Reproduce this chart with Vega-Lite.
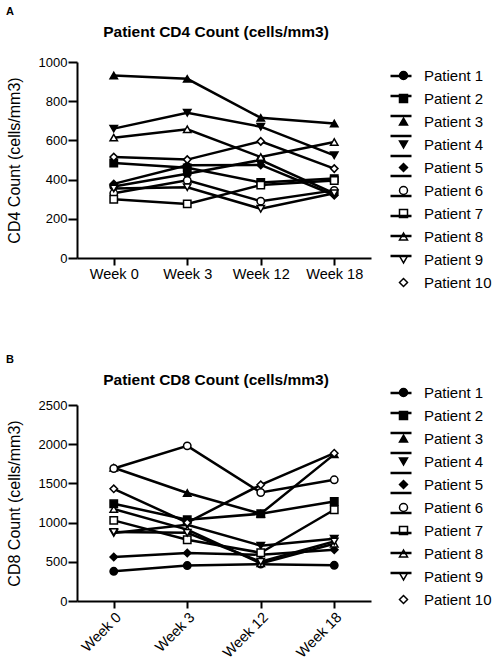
{
  "$schema": "https://vega.github.io/schema/vega-lite/v6.json",
  "background": "white",
  "padding": {"left": 6, "top": 5, "right": 0, "bottom": 0},
  "spacing": 60,
  "resolve": {"scale": {"fill": "independent", "shape": "independent", "stroke": "independent"}},
  "datasets": {
    "cd4": [
      {"patient": "Patient 1", "week": "Week 0", "count": 365},
      {"patient": "Patient 1", "week": "Week 3", "count": 430},
      {"patient": "Patient 1", "week": "Week 12", "count": 500},
      {"patient": "Patient 1", "week": "Week 18", "count": 330},
      {"patient": "Patient 2", "week": "Week 0", "count": 485},
      {"patient": "Patient 2", "week": "Week 3", "count": 460},
      {"patient": "Patient 2", "week": "Week 12", "count": 385},
      {"patient": "Patient 2", "week": "Week 18", "count": 405},
      {"patient": "Patient 3", "week": "Week 0", "count": 931},
      {"patient": "Patient 3", "week": "Week 3", "count": 914},
      {"patient": "Patient 3", "week": "Week 12", "count": 715},
      {"patient": "Patient 3", "week": "Week 18", "count": 686},
      {"patient": "Patient 4", "week": "Week 0", "count": 660},
      {"patient": "Patient 4", "week": "Week 3", "count": 741},
      {"patient": "Patient 4", "week": "Week 12", "count": 670},
      {"patient": "Patient 4", "week": "Week 18", "count": 524},
      {"patient": "Patient 5", "week": "Week 0", "count": 378},
      {"patient": "Patient 5", "week": "Week 3", "count": 473},
      {"patient": "Patient 5", "week": "Week 12", "count": 475},
      {"patient": "Patient 5", "week": "Week 18", "count": 320},
      {"patient": "Patient 6", "week": "Week 0", "count": 330},
      {"patient": "Patient 6", "week": "Week 3", "count": 396},
      {"patient": "Patient 6", "week": "Week 12", "count": 290},
      {"patient": "Patient 6", "week": "Week 18", "count": 345},
      {"patient": "Patient 7", "week": "Week 0", "count": 300},
      {"patient": "Patient 7", "week": "Week 3", "count": 276},
      {"patient": "Patient 7", "week": "Week 12", "count": 372},
      {"patient": "Patient 7", "week": "Week 18", "count": 395},
      {"patient": "Patient 8", "week": "Week 0", "count": 614},
      {"patient": "Patient 8", "week": "Week 3", "count": 657},
      {"patient": "Patient 8", "week": "Week 12", "count": 515},
      {"patient": "Patient 8", "week": "Week 18", "count": 592},
      {"patient": "Patient 9", "week": "Week 0", "count": 355},
      {"patient": "Patient 9", "week": "Week 3", "count": 361},
      {"patient": "Patient 9", "week": "Week 12", "count": 251},
      {"patient": "Patient 9", "week": "Week 18", "count": 330},
      {"patient": "Patient 10", "week": "Week 0", "count": 515},
      {"patient": "Patient 10", "week": "Week 3", "count": 502},
      {"patient": "Patient 10", "week": "Week 12", "count": 595},
      {"patient": "Patient 10", "week": "Week 18", "count": 456}
    ],
    "cd8": [
      {"patient": "Patient 1", "week": "Week 0", "count": 379},
      {"patient": "Patient 1", "week": "Week 3", "count": 452},
      {"patient": "Patient 1", "week": "Week 12", "count": 470},
      {"patient": "Patient 1", "week": "Week 18", "count": 455},
      {"patient": "Patient 2", "week": "Week 0", "count": 1240},
      {"patient": "Patient 2", "week": "Week 3", "count": 1037},
      {"patient": "Patient 2", "week": "Week 12", "count": 1113},
      {"patient": "Patient 2", "week": "Week 18", "count": 1270},
      {"patient": "Patient 3", "week": "Week 0", "count": 1700},
      {"patient": "Patient 3", "week": "Week 3", "count": 1377},
      {"patient": "Patient 3", "week": "Week 12", "count": 1113},
      {"patient": "Patient 3", "week": "Week 18", "count": 1870},
      {"patient": "Patient 4", "week": "Week 0", "count": 867},
      {"patient": "Patient 4", "week": "Week 3", "count": 973},
      {"patient": "Patient 4", "week": "Week 12", "count": 706},
      {"patient": "Patient 4", "week": "Week 18", "count": 795},
      {"patient": "Patient 5", "week": "Week 0", "count": 562},
      {"patient": "Patient 5", "week": "Week 3", "count": 613},
      {"patient": "Patient 5", "week": "Week 12", "count": 590},
      {"patient": "Patient 5", "week": "Week 18", "count": 655},
      {"patient": "Patient 6", "week": "Week 0", "count": 1690},
      {"patient": "Patient 6", "week": "Week 3", "count": 1979},
      {"patient": "Patient 6", "week": "Week 12", "count": 1384},
      {"patient": "Patient 6", "week": "Week 18", "count": 1546},
      {"patient": "Patient 7", "week": "Week 0", "count": 1028},
      {"patient": "Patient 7", "week": "Week 3", "count": 782},
      {"patient": "Patient 7", "week": "Week 12", "count": 616},
      {"patient": "Patient 7", "week": "Week 18", "count": 1164},
      {"patient": "Patient 8", "week": "Week 0", "count": 1173},
      {"patient": "Patient 8", "week": "Week 3", "count": 910},
      {"patient": "Patient 8", "week": "Week 12", "count": 480},
      {"patient": "Patient 8", "week": "Week 18", "count": 731},
      {"patient": "Patient 9", "week": "Week 0", "count": 880},
      {"patient": "Patient 9", "week": "Week 3", "count": 870},
      {"patient": "Patient 9", "week": "Week 12", "count": 500},
      {"patient": "Patient 9", "week": "Week 18", "count": 760},
      {"patient": "Patient 10", "week": "Week 0", "count": 1431},
      {"patient": "Patient 10", "week": "Week 3", "count": 1000},
      {"patient": "Patient 10", "week": "Week 12", "count": 1482},
      {"patient": "Patient 10", "week": "Week 18", "count": 1885}
    ]
  },
  "vconcat": [
    {
      "title": {"text": "A", "anchor": "start", "fontSize": 11, "fontWeight": "bold", "offset": 8},
      "resolve": {"scale": {"fill": "independent", "shape": "independent", "stroke": "independent"}},
      "vconcat": [
        {
          "width": 294,
          "height": 196,
          "title": {"text": "Patient CD4 Count (cells/mm3)", "fontSize": 15.5, "fontWeight": "bold", "anchor": "middle", "offset": 16, "dx": -8},
          "data": {"name": "cd4"},
          "encoding": {
            "x": {"field": "week", "type": "ordinal", "sort": ["Week 0", "Week 3", "Week 12", "Week 18"], "scale": {"type": "point", "padding": 0.5}, "axis": {"title": null, "labelAngle": 0, "tickSize": 7, "labelPadding": 2, "labelFontSize": 14.5}},
            "y": {"field": "count", "type": "quantitative", "scale": {"domain": [0, 1000], "nice": false}, "axis": {"title": "CD4 Count (cells/mm3)", "format": "d", "values": [0, 200, 400, 600, 800, 1000], "tickSize": 9, "labelPadding": 1, "labelFontSize": 13, "titlePadding": 16}}
          },
          "layer": [
            {
              "mark": {"type": "line", "strokeWidth": 2.5},
              "encoding": {
                "stroke": {"field": "patient", "type": "nominal",
                  "scale": {"domain": ["Patient 10", "Patient 9", "Patient 8", "Patient 7", "Patient 6", "Patient 5", "Patient 4", "Patient 3", "Patient 2", "Patient 1"], "range": ["black", "black", "black", "black", "black", "black", "black", "black", "black", "black"]},
                  "legend": {"title": null, "orient": "none", "legendX": 310, "legendY": 0, "symbolType": "stroke", "symbolSize": 441, "symbolStrokeWidth": 2.5, "labelExpr": "''", "rowPadding": 0, "padding": 2, "zindex": 2, "symbolLimit": 20}}
              }
            },
            {
              "mark": {"type": "point", "filled": true, "size": 55, "stroke": "black", "strokeWidth": 1.5, "opacity": 1},
              "encoding": {
                "shape": {"field": "patient", "type": "nominal", "scale": {"domain": ["Patient 1", "Patient 2", "Patient 3", "Patient 4", "Patient 5", "Patient 6", "Patient 7", "Patient 8", "Patient 9", "Patient 10"], "range": ["circle", "square", "triangle-up", "triangle-down", "diamond", "circle", "square", "triangle-up", "triangle-down", "diamond"]},
                  "legend": {"title": null, "orient": "none", "legendX": 317, "legendY": 4, "symbolSize": 64, "rowPadding": 7, "labelOffset": 13, "padding": 2, "zindex": 1, "encode": {"symbols": {"stroke": {"value": "black"}, "strokeWidth": {"value": 1.5}}}}},
                "fill": {"field": "patient", "type": "nominal", "scale": {"domain": ["Patient 1", "Patient 2", "Patient 3", "Patient 4", "Patient 5", "Patient 6", "Patient 7", "Patient 8", "Patient 9", "Patient 10"], "range": ["black", "black", "black", "black", "black", "white", "white", "white", "white", "white"]},
                  "legend": {"title": null, "orient": "none", "legendX": 317, "legendY": 4, "symbolSize": 64, "rowPadding": 7, "labelOffset": 13, "padding": 2, "zindex": 1, "encode": {"symbols": {"stroke": {"value": "black"}, "strokeWidth": {"value": 1.5}}}}}
              }
            }
          ]
        }
      ]
    },
    {
      "title": {"text": "B", "anchor": "start", "fontSize": 11, "fontWeight": "bold", "offset": 6, "dy": -2},
      "resolve": {"scale": {"fill": "independent", "shape": "independent", "stroke": "independent"}},
      "vconcat": [
        {
          "width": 294,
          "height": 196,
          "title": {"text": "Patient CD8 Count (cells/mm3)", "fontSize": 15.5, "fontWeight": "bold", "anchor": "middle", "offset": 16, "dx": -8, "dy": 25},
          "data": {"name": "cd8"},
          "encoding": {
            "x": {"field": "week", "type": "ordinal", "sort": ["Week 0", "Week 3", "Week 12", "Week 18"], "scale": {"type": "point", "padding": 0.5}, "axis": {"title": null, "labelAngle": -45, "tickSize": 7, "labelPadding": 2, "labelFontSize": 14.5}},
            "y": {"field": "count", "type": "quantitative", "scale": {"domain": [0, 2500], "nice": false}, "axis": {"title": "CD8 Count (cells/mm3)", "format": "d", "values": [0, 500, 1000, 1500, 2000, 2500], "tickSize": 9, "labelPadding": 1, "labelFontSize": 13, "titlePadding": 16}}
          },
          "layer": [
            {
              "mark": {"type": "line", "strokeWidth": 2.5},
              "encoding": {
                "stroke": {"field": "patient", "type": "nominal",
                  "scale": {"domain": ["Patient 10", "Patient 9", "Patient 8", "Patient 7", "Patient 6", "Patient 5", "Patient 4", "Patient 3", "Patient 2", "Patient 1"], "range": ["black", "black", "black", "black", "black", "black", "black", "black", "black", "black"]},
                  "legend": {"title": null, "orient": "none", "legendX": 310, "legendY": -26, "symbolType": "stroke", "symbolSize": 441, "symbolStrokeWidth": 2.5, "labelExpr": "''", "rowPadding": 0, "padding": 2, "zindex": 2, "symbolLimit": 20}}
              }
            },
            {
              "mark": {"type": "point", "filled": true, "size": 55, "stroke": "black", "strokeWidth": 1.5, "opacity": 1},
              "encoding": {
                "shape": {"field": "patient", "type": "nominal", "scale": {"domain": ["Patient 1", "Patient 2", "Patient 3", "Patient 4", "Patient 5", "Patient 6", "Patient 7", "Patient 8", "Patient 9", "Patient 10"], "range": ["circle", "square", "triangle-up", "triangle-down", "diamond", "circle", "square", "triangle-up", "triangle-down", "diamond"]},
                  "legend": {"title": null, "orient": "none", "legendX": 317, "legendY": -22, "symbolSize": 64, "rowPadding": 7, "labelOffset": 13, "padding": 2, "zindex": 1, "encode": {"symbols": {"stroke": {"value": "black"}, "strokeWidth": {"value": 1.5}}}}},
                "fill": {"field": "patient", "type": "nominal", "scale": {"domain": ["Patient 1", "Patient 2", "Patient 3", "Patient 4", "Patient 5", "Patient 6", "Patient 7", "Patient 8", "Patient 9", "Patient 10"], "range": ["black", "black", "black", "black", "black", "white", "white", "white", "white", "white"]},
                  "legend": {"title": null, "orient": "none", "legendX": 317, "legendY": -22, "symbolSize": 64, "rowPadding": 7, "labelOffset": 13, "padding": 2, "zindex": 1, "encode": {"symbols": {"stroke": {"value": "black"}, "strokeWidth": {"value": 1.5}}}}}
              }
            }
          ]
        }
      ]
    }
  ],
  "config": {
    "font": "Liberation Sans",
    "view": {"stroke": null},
    "title": {"color": "black", "font": "Liberation Sans"},
    "axis": {"domainColor": "black", "domainWidth": 2, "tickColor": "black", "tickWidth": 2, "labelColor": "black", "titleColor": "black", "titleFontSize": 16, "titleFontWeight": "normal", "grid": false, "labelFont": "Liberation Sans", "titleFont": "Liberation Sans"},
    "legend": {"labelFontSize": 15, "labelColor": "black", "labelFont": "Liberation Sans", "labelLimit": 200}
  }
}
